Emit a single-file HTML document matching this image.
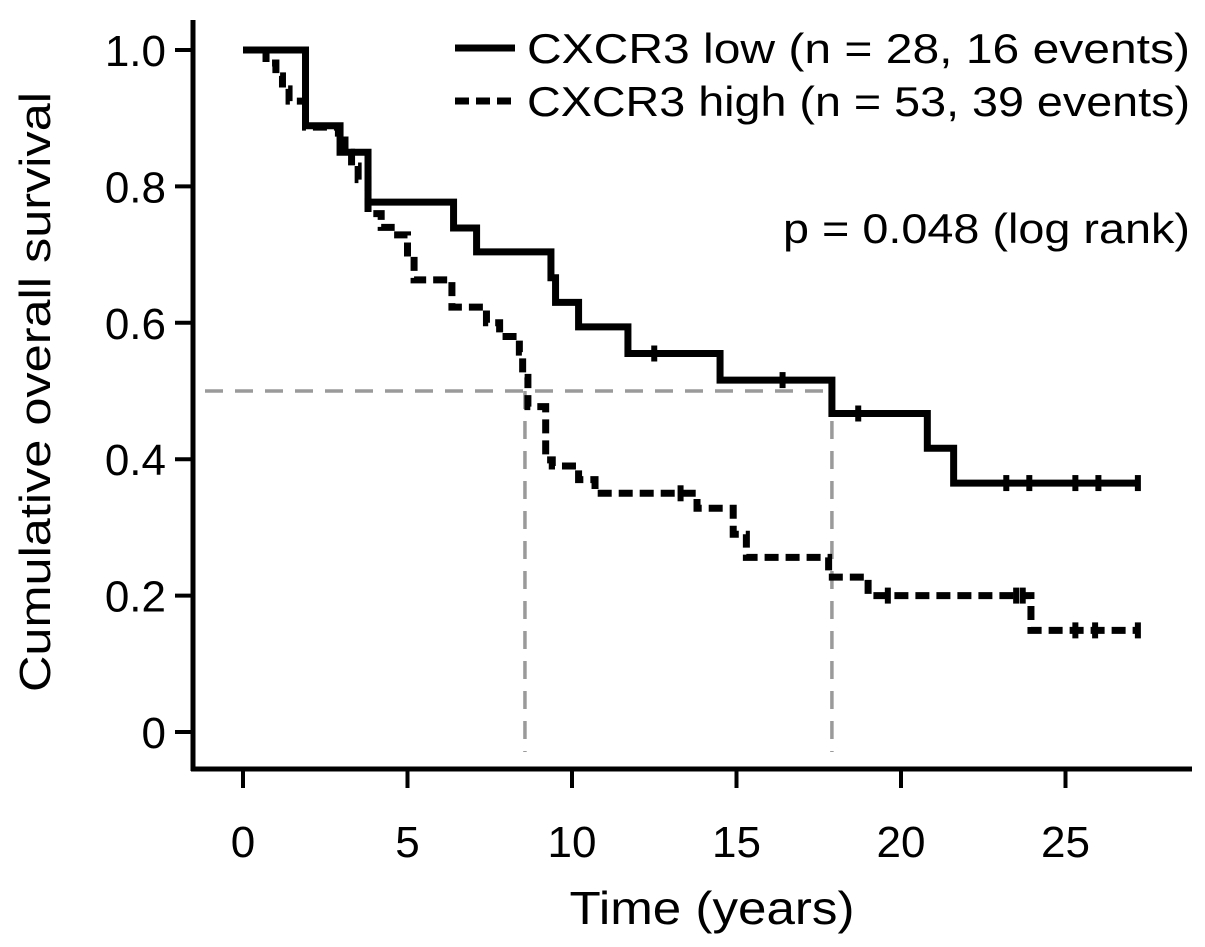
<!DOCTYPE html>
<html><head><meta charset="utf-8"><style>
html,body{margin:0;padding:0;background:#fff;}
svg{display:block;font-family:"Liberation Sans",Arial,sans-serif;}
</style></head><body>
<svg id="chart" width="1205" height="947" viewBox="0 0 1205 947">
<g id="grid"></g><g id="series"></g><g id="axes"></g>
<g>
<line x1="455" y1="48" x2="515" y2="48" stroke="#000" stroke-width="7"/>
<text x="527" y="63" font-size="42" textLength="663" lengthAdjust="spacingAndGlyphs">CXCR3 low (n = 28, 16 events)</text>
<line x1="455" y1="101" x2="515" y2="101" stroke="#000" stroke-width="7" stroke-dasharray="14,7"/>
<text x="527" y="116" font-size="42" textLength="663" lengthAdjust="spacingAndGlyphs">CXCR3 high (n = 53, 39 events)</text>
</g>
<text x="1190" y="243" font-size="42" text-anchor="end" textLength="407" lengthAdjust="spacingAndGlyphs">p = 0.048 (log rank)</text>
<text x="712" y="924" font-size="46" text-anchor="middle" textLength="285" lengthAdjust="spacingAndGlyphs">Time (years)</text>
<text transform="translate(50,392) rotate(-90)" font-size="44" text-anchor="middle" textLength="600" lengthAdjust="spacingAndGlyphs">Cumulative overall survival</text>
</svg>
<script>
const xTicks=[0,5,10,15,20,25];
const yTicks=[0,0.2,0.4,0.6,0.8,1.0];
const yTickLabels=["0","0.2","0.4","0.6","0.8","1.0"];
const lowTimes=[0,1.9,2.95,3.8,6.4,7.1,9.36,9.5,10.2,11.7,14.5,17.9,20.8,21.6];
const lowSurv=[1.0,0.889,0.85,0.777,0.739,0.704,0.666,0.63,0.594,0.555,0.516,0.467,0.416,0.365];
const lowEnd=27.2;
const lowCensor=[12.5,16.4,18.7,23.2,23.9,25.3,26.0,27.2];
const highTimes=[0,0.7,1.0,1.2,1.4,1.9,2.9,3.1,3.3,3.5,3.8,4.2,4.7,5.0,5.2,6.35,7.4,7.8,8.4,8.5,8.66,9.2,9.4,10.2,10.7,13.8,14.9,15.3,17.8,19.0,23.95];
const highSurv=[1.0,0.981,0.962,0.943,0.925,0.887,0.868,0.85,0.83,0.81,0.76,0.74,0.729,0.697,0.663,0.623,0.60,0.58,0.557,0.52,0.477,0.399,0.39,0.37,0.35,0.328,0.29,0.256,0.227,0.20,0.149];
const highEnd=27.2;
const highCensor=[13.3,19.6,23.5,23.7,25.3,25.9,27.2];
const medians=[8.57,17.9];
const medianLevel=0.5;

const NS="http://www.w3.org/2000/svg";
const X=t=>243+t*32.9;
const Y=v=>732-v*682;
function mk(tag,attrs,parent){const e=document.createElementNS(NS,tag);for(const k in attrs)e.setAttribute(k,attrs[k]);parent.appendChild(e);return e;}
const axes=document.getElementById('axes'),series=document.getElementById('series'),grid=document.getElementById('grid');

let ya=mk('line',{x1:193,y1:20,x2:193,y2:771,stroke:'#000','stroke-width':5},axes);


let xa=mk('line',{x1:191,y1:769,x2:1192,y2:769,stroke:'#000','stroke-width':5},axes);


xTicks.forEach(t=>{
  let l=mk('line',{x1:X(t),y1:769,x2:X(t),y2:788,stroke:'#000','stroke-width':4},axes);
  
  
  let tx=mk('text',{x:X(t),y:857,'font-size':44,'text-anchor':'middle'},axes);tx.textContent=String(t);
  
  
});
yTicks.forEach((v,i)=>{
  let l=mk('line',{x1:175,y1:Y(v),x2:193,y2:Y(v),stroke:'#000','stroke-width':4},axes);
  
  
  let tx=mk('text',{x:166,y:Y(v)+16,'font-size':44,'text-anchor':'end'},axes);tx.textContent=yTickLabels[i];
  
  
});
let lastMed=Math.max(...medians);
let hl=mk('line',{x1:205,y1:Y(medianLevel),x2:X(lastMed),y2:Y(medianLevel),stroke:'#9a9a9a','stroke-width':3.5,'stroke-dasharray':'18,12'},grid);


medians.forEach(m=>{
  let vl=mk('line',{x1:X(m),y1:Y(medianLevel),x2:X(m),y2:752,stroke:'#9a9a9a','stroke-width':3.5,'stroke-dasharray':'18,12'},grid);
  
  
});
function stepPath(ts,ss,end){let d='M'+X(ts[0])+' '+Y(ss[0]);for(let i=1;i<ts.length;i++){d+=' H'+X(ts[i])+' V'+Y(ss[i]);}d+=' H'+X(end);return d;}
function survAt(ts,ss,t){let s=ss[0];for(let i=0;i<ts.length;i++)if(ts[i]<=t)s=ss[i];return s;}
let pl=mk('path',{d:stepPath(lowTimes,lowSurv,lowEnd),fill:'none',stroke:'#000','stroke-width':7},series);


let ph=mk('path',{d:stepPath(highTimes,highSurv,highEnd),fill:'none',stroke:'#000','stroke-width':7,'stroke-dasharray':'14,7'},series);


lowCensor.forEach(t=>{
  let c=mk('line',{x1:X(t),y1:Y(survAt(lowTimes,lowSurv,t))-8,x2:X(t),y2:Y(survAt(lowTimes,lowSurv,t))+8,stroke:'#000','stroke-width':6},series);
  
  
});
highCensor.forEach(t=>{
  let c=mk('line',{x1:X(t),y1:Y(survAt(highTimes,highSurv,t))-8,x2:X(t),y2:Y(survAt(highTimes,highSurv,t))+8,stroke:'#000','stroke-width':6},series);
  
  
});
</script>
</body></html>
